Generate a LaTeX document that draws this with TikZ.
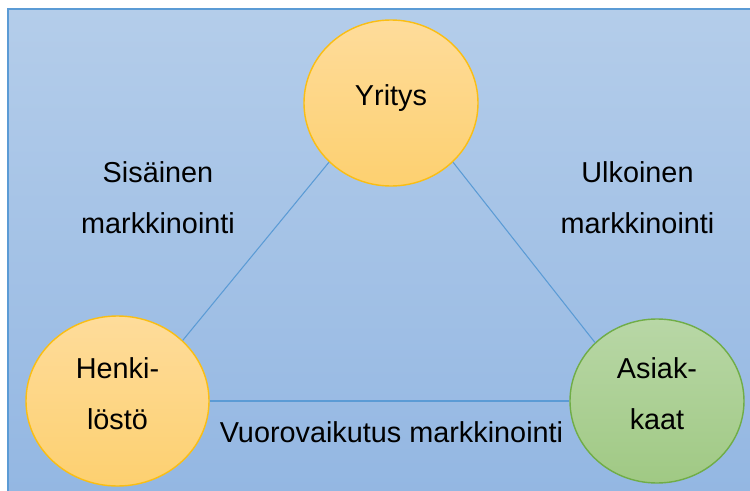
\documentclass[tikz,border=0pt]{standalone}
\usepackage{fontspec}
\setmainfont{Liberation Sans}
\usetikzlibrary{shapes.geometric}
\definecolor{bgtop}{RGB}{180, 205, 234}
\definecolor{bgbottom}{RGB}{146, 182, 226}
\definecolor{framecolor}{RGB}{91, 155, 213}
\definecolor{orangetop}{RGB}{254, 220, 155}
\definecolor{orangebottom}{RGB}{253, 208, 112}
\definecolor{orangeline}{RGB}{250, 190, 20}
\definecolor{greentop}{RGB}{184, 215, 166}
\definecolor{greenbottom}{RGB}{160, 201, 132}
\definecolor{greenline}{RGB}{112, 173, 71}

\begin{document}
\begin{tikzpicture}[
    every node/.style={font=\fontsize{16.4}{28.9}\selectfont},
    party/.style={ellipse, line width=0.8pt, align=center, inner sep=0pt, text depth=0.3cm},
    inside/.style={party, draw=orangeline, top color=orangetop, bottom color=orangebottom},
    outside/.style={party, draw=greenline, top color=greentop, bottom color=greenbottom},
    link/.style={framecolor, line width=0.6pt},
    caption/.style={align=center}
]

    % --- Background panel ---
    \useasboundingbox (0,0) rectangle (15,9.8);
    \draw[framecolor, line width=0.85pt, top color=bgtop, bottom color=bgbottom] (0.16,-0.5) rectangle (15.5,9.62);

    % --- The three parties ---
    \node[inside, minimum width=3.48cm, minimum height=3.32cm] (yritys) at (7.82, 7.74) {Yritys};
    \node[inside, minimum width=3.66cm, minimum height=3.40cm] (henkilosto) at (2.35, 1.78) {Henki-\\löstö};
    \node[outside, minimum width=3.48cm, minimum height=3.28cm] (asiakkaat) at (13.14, 1.78) {Asiak-\\kaat};

    % --- Connections ---
    \draw[link] (yritys.south west) -- (henkilosto.north east);
    \draw[link] (yritys.south east) -- (asiakkaat.north west);
    \draw[link] (henkilosto.east) -- (asiakkaat.west);

    % Labels
    \node[caption] (sisainen) at (3.16, 5.84) {Sisäinen\\markkinointi};
    \node[caption] (ulkoinen) at (12.75, 5.84) {Ulkoinen\\markkinointi};
    \node (vuoro) at (7.83, 1.15) {Vuorovaikutus markkinointi};

\end{tikzpicture}
\end{document}
